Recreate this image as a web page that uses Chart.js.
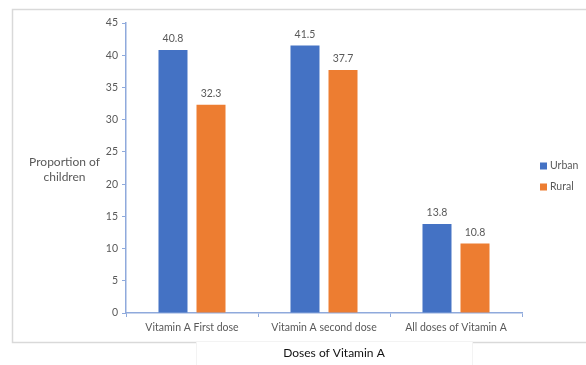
<!DOCTYPE html>
<html>
<head>
<meta charset="utf-8">
<script src="https://cdn.jsdelivr.net/npm/chart.js@4/dist/chart.umd.min.js"></script>
<style>
  html, body { margin: 0; padding: 0; background: #ffffff; }
  #wrap { width: 586px; height: 365px; }
</style>
</head>
<body>
<div id="wrap"><canvas id="chart" width="586" height="365"></canvas></div>
<script>
// Proportion of children receiving each vitamin A dose, by residence
const categories = ['Vitamin A First dose', 'Vitamin A second dose', 'All doses of Vitamin A'];
const urbanValues = [40.8, 41.5, 13.8];
const ruralValues = [32.3, 37.7, 10.8];
const seriesNames = ['Urban', 'Rural'];
const yTicks = [0, 5, 10, 15, 20, 25, 30, 35, 40, 45];
const yTitleLines = ['Proportion of', 'children'];
const xTitle = 'Doses of Vitamin A';

const FONT = "Lato, 'Liberation Sans', sans-serif";
const GREY = '#595959';
const AXIS = '#8FAADC';

// Outer frame plus the white panel holding the x-axis title
const framePlugin = {
  id: 'frame',
  beforeDraw(chart) {
    const ctx = chart.ctx;
    ctx.save();
    ctx.fillStyle = '#ffffff';
    ctx.fillRect(0, 0, chart.width, chart.height);
    ctx.strokeStyle = '#D9D9D9';
    ctx.lineWidth = 1.5;
    ctx.beginPath();
    ctx.moveTo(chart.width + 2, 9.5);
    ctx.lineTo(12.5, 9.5);
    ctx.lineTo(12.5, 342.5);
    ctx.lineTo(chart.width + 2, 342.5);
    ctx.stroke();
    // title panel sits over the frame's bottom edge
    ctx.fillStyle = '#ffffff';
    ctx.fillRect(196, 341, 277, 30);
    ctx.strokeStyle = '#F3F3F3';
    ctx.lineWidth = 1;
    ctx.strokeRect(196.5, 341.5, 276, 30);
    ctx.restore();
  },
  afterDraw(chart) {
    const ctx = chart.ctx;
    ctx.save();
    // y-axis title, written horizontally
    ctx.fillStyle = GREY;
    ctx.font = '12px ' + FONT;
    ctx.textAlign = 'center';
    ctx.textBaseline = 'middle';
    yTitleLines.forEach((line, i) => ctx.fillText(line, 64.5, 162 + i * 15));
    // x-axis title
    ctx.fillStyle = '#111111';
    ctx.font = '12px ' + FONT;
    ctx.fillText(xTitle, 334, 353);
    // legend
    ctx.font = '10.5px ' + FONT;
    ctx.textAlign = 'left';
    chart.data.datasets.forEach((ds, i) => {
      const y = 166 + i * 21;
      ctx.fillStyle = ds.backgroundColor;
      ctx.fillRect(540, y - 3.5, 7, 7);
      ctx.fillStyle = GREY;
      ctx.fillText(ds.label, 550, y);
    });
    ctx.restore();
  }
};

// Value labels above each bar
const valueLabels = {
  id: 'valueLabels',
  afterDatasetsDraw(chart) {
    const ctx = chart.ctx;
    ctx.save();
    ctx.fillStyle = GREY;
    ctx.font = '10.5px ' + FONT;
    ctx.textAlign = 'center';
    ctx.textBaseline = 'bottom';
    chart.data.datasets.forEach((ds, di) => {
      chart.getDatasetMeta(di).data.forEach((bar, i) => {
        ctx.fillText(ds.data[i].toFixed(1), bar.x, bar.y - 6);
      });
    });
    ctx.restore();
  }
};

new Chart(document.getElementById('chart'), {
  type: 'bar',
  data: {
    labels: categories,
    datasets: [
      { label: seriesNames[0], data: urbanValues, backgroundColor: '#4472C4' },
      { label: seriesNames[1], data: ruralValues, backgroundColor: '#ED7D31' }
    ]
  },
  options: {
    responsive: false,
    animation: false,
    devicePixelRatio: 1,
    layout: { padding: { left: 0, top: 23, right: 64, bottom: 0 } },
    datasets: { bar: { categoryPercentage: 0.576, barPercentage: 0.763 } },
    plugins: { legend: { display: false }, tooltip: { enabled: false } },
    scales: {
      x: {
        grid: { display: true, drawOnChartArea: false, drawTicks: true, tickLength: 4, color: AXIS, offset: true },
        border: { display: true, color: AXIS, width: 1.5 },
        ticks: { color: GREY, font: { family: FONT, size: 10.5 }, padding: 4, maxRotation: 0 },
        afterFit(scale) { scale.height = 52; }
      },
      y: {
        min: 0,
        max: 45,
        afterBuildTicks(scale) { scale.ticks = yTicks.map(v => ({ value: v })); },
        grid: { display: true, drawOnChartArea: false, drawTicks: true, tickLength: 4, color: AXIS },
        border: { display: true, color: AXIS, width: 1.5 },
        ticks: { color: GREY, font: { family: FONT, size: 10.5 }, padding: 4 },
        afterFit(scale) { scale.width = 126; }
      }
    }
  },
  plugins: [framePlugin, valueLabels]
});
</script>
</body>
</html>
